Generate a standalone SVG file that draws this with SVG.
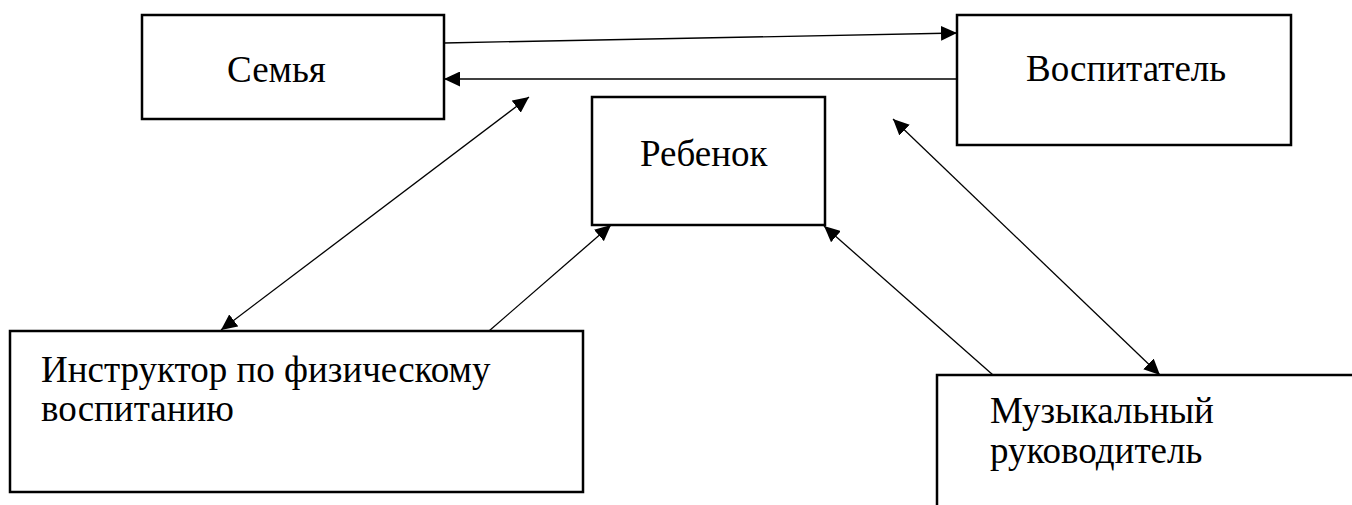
<svg xmlns="http://www.w3.org/2000/svg" width="1352" height="505" viewBox="0 0 1352 505">
<style>
.box{fill:#fff;stroke:#000;stroke-width:2.5}
.lbl{font-family:'Liberation Serif','Times New Roman',Times,serif;font-size:37px;fill:#000}
.conn{stroke:#000;stroke-width:1.3;fill:none}
</style>
<defs>
<marker id="ah" markerUnits="userSpaceOnUse" markerWidth="17" markerHeight="15" refX="16" refY="7.5" orient="auto-start-reverse">
<path d="M0,0 L16,7.5 L0,15 z" fill="#000"/>
</marker>
</defs>
<rect width="1352" height="505" fill="#fff"/>
<g id="node-semya">
<rect class="box" x="142" y="15" width="302" height="104"/>
<text class="lbl" x="227" y="82">Семья</text>
</g>
<g id="node-vospitatel">
<rect class="box" x="957" y="15" width="334" height="130"/>
<text class="lbl" x="1026" y="81">Воспитатель</text>
</g>
<g id="node-rebenok">
<rect class="box" x="592" y="97" width="233" height="128"/>
<text class="lbl" x="640" y="166">Ребенок</text>
</g>
<g id="node-instruktor">
<rect class="box" x="10" y="331" width="573" height="161"/>
<text class="lbl" x="41" y="382">Инструктор по физическому</text>
<text class="lbl" x="41" y="421">воспитанию</text>
</g>
<g id="node-muzykalny">
<path class="box" d="M937,510 L937,375 L1356,375"/>
<text class="lbl" x="990" y="423">Музыкальный</text>
<text class="lbl" x="990" y="463">руководитель</text>
</g>
<g id="connectors">
<line class="conn" x1="444" y1="43" x2="957" y2="33" marker-end="url(#ah)"/>
<line class="conn" x1="957" y1="79" x2="444" y2="79" marker-end="url(#ah)"/>
<line class="conn" x1="529" y1="97" x2="221" y2="330" marker-start="url(#ah)" marker-end="url(#ah)"/>
<line class="conn" x1="489" y1="331" x2="611" y2="225" marker-end="url(#ah)"/>
<line class="conn" x1="993" y1="375" x2="824" y2="226" marker-end="url(#ah)"/>
<line class="conn" x1="893" y1="119" x2="1160" y2="375" marker-start="url(#ah)" marker-end="url(#ah)"/>
</g>
</svg>
